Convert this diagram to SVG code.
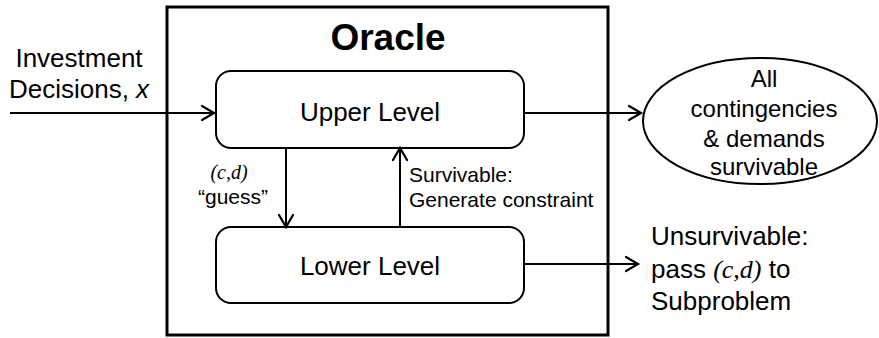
<svg xmlns="http://www.w3.org/2000/svg" width="879" height="338" viewBox="0 0 879 338">
<style>
.t{font-family:"Liberation Sans",Arial,sans-serif;fill:#000}
.m{font-family:"Liberation Serif","Times New Roman",serif;font-style:italic}
.box{fill:#fff;stroke:#000;stroke-width:2}
.ln{fill:none;stroke:#000;stroke-width:2}
.ah{fill:none;stroke:#000;stroke-width:2.2;stroke-linecap:round;stroke-linejoin:miter}
</style>
<rect width="879" height="338" fill="#fff"/>
<g id="oracle">
<rect x="167" y="7" width="441" height="328" fill="none" stroke="#000" stroke-width="3"/>
<text class="t" x="388" y="50" font-size="37" font-weight="bold" text-anchor="middle">Oracle</text>
</g>
<g id="upper">
<rect class="box" x="216" y="71" width="308" height="77" rx="15"/>
<text class="t" x="370" y="121" font-size="26" text-anchor="middle">Upper Level</text>
</g>
<g id="lower">
<rect class="box" x="216" y="227" width="308" height="76" rx="15"/>
<text class="t" x="370" y="275" font-size="26" text-anchor="middle">Lower Level</text>
</g>
<g id="result">
<ellipse cx="760" cy="121" rx="117" ry="63" fill="#fff" stroke="#000" stroke-width="2"/>
<text class="t" font-size="24" text-anchor="middle"><tspan x="764" y="87">All</tspan><tspan x="764" y="117">contingencies</tspan><tspan x="764" y="147">&amp; demands</tspan><tspan x="764" y="175">survivable</tspan></text>
</g>
<g id="input-label">
<text class="t" font-size="26" text-anchor="middle"><tspan x="79" y="67">Investment</tspan><tspan x="79" y="98">Decisions, <tspan font-style="italic">x</tspan></tspan></text>
</g>
<g id="unsurvivable">
<text class="t" font-size="26"><tspan x="651" y="245">Unsurvivable:</tspan><tspan x="651" y="278">pass <tspan class="m">(c,d)</tspan> to</tspan><tspan x="651" y="310">Subproblem</tspan></text>
</g>
<g id="connectors">
<line class="ln" x1="10" y1="113" x2="213" y2="113"/>
<polyline class="ah" points="202,106 214,113 202,120"/>
<line class="ln" x1="524" y1="113" x2="640" y2="113"/>
<polyline class="ah" points="629,106 641,113 629,120"/>
<line class="ln" x1="286" y1="148" x2="286" y2="225"/>
<polyline class="ah" points="279,215 286,227 293,215"/>
<line class="ln" x1="400" y1="227" x2="400" y2="150"/>
<polyline class="ah" points="393,160 400,148 407,160"/>
<line class="ln" x1="524" y1="264" x2="637" y2="264"/>
<polyline class="ah" points="626,257 638,264 626,271"/>
<text class="t m" x="229" y="179" font-size="20" text-anchor="middle">(c,d)</text>
<text class="t" x="233" y="204" font-size="21" text-anchor="middle">“guess”</text>
<text class="t" font-size="21"><tspan x="409" y="182">Survivable:</tspan><tspan x="409" y="207">Generate constraint</tspan></text>
</g>
</svg>
